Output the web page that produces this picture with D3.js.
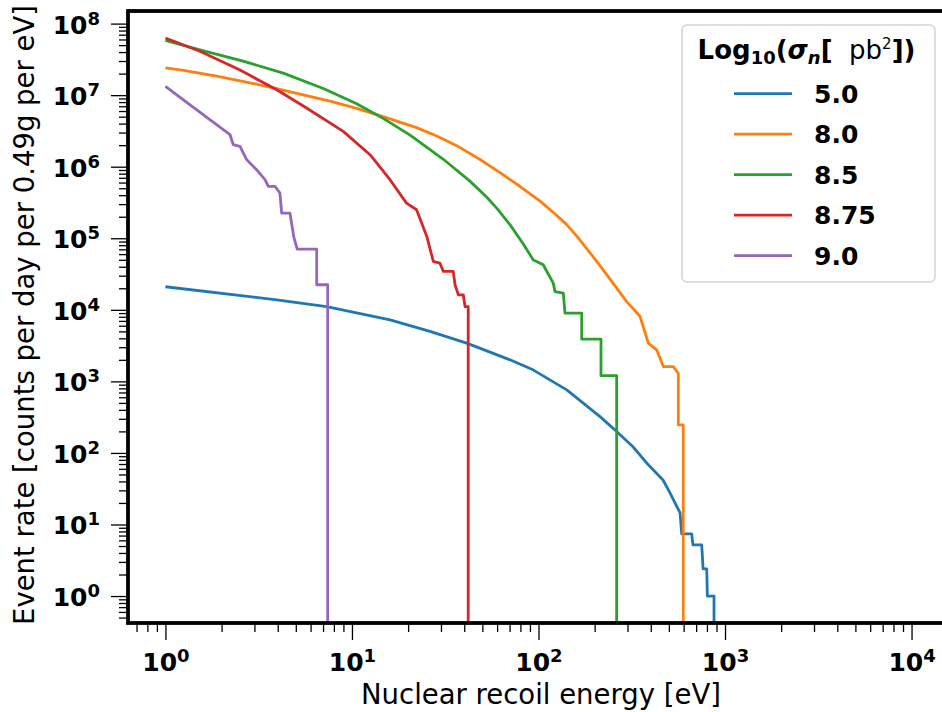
<!DOCTYPE html>
<html>
<head>
<meta charset="utf-8">
<script src="https://cdn.jsdelivr.net/npm/d3@7"></script>
<style>
  html, body { margin: 0; padding: 0; background: #fff; }
  svg { display: block; }
  text { font-family: "DejaVu Sans", sans-serif; }
</style>
</head>
<body>
<svg id="chart" width="942" height="712"></svg>
<script>
// ---------------- DATA ----------------
const seriesLabels = ["5.0", "8.0", "8.5", "8.75", "9.0"];
const seriesColors = ["#1f77b4", "#ff7f0e", "#2ca02c", "#d62728", "#9467bd"];

// Log10(sigma_n) = 5.0
const energy_5_0 = [1, 3.95, 7.32, 16.0, 26.2, 41.2, 70.3, 93.5, 141.7, 213.7, 262.5, 321, 380, 465, 507, 574, 586, 663, 673, 750, 763, 798, 804, 873, 873];
const rate_5_0   = [2.1e4, 1.38e4, 1.11e4, 7.25e3, 5.0e3, 3.42e3, 2.0e3, 1.45e3, 760, 322, 199, 122, 72.4, 41.9, 27.6, 14.5, 7.4, 7.4, 5.2, 5.2, 2.4, 2.4, 1.0, 1.0, 0.001];

// Log10(sigma_n) = 8.0
const energy_8_0 = [1, 1.25, 1.88, 2.84, 3.95, 5.48, 7.62, 10.6, 14.7, 22.2, 28.5, 36.4, 48.6, 62.2, 79.4, 102, 125, 141.7, 160, 181, 213.7, 262.5, 297, 350, 388, 430, 467, 528, 562, 562, 597, 597];
const rate_8_0   = [2.40e7, 2.22e7, 1.85e7, 1.49e7, 1.23e7, 1.01e7, 8.24e6, 6.53e6, 5.02e6, 3.52e6, 2.69e6, 1.97e6, 1.26e6, 8.26e5, 5.33e5, 3.31e5, 2.10e5, 1.55e5, 1.08e5, 7.24e4, 4.15e4, 2.01e4, 1.30e4, 8.13e3, 3.42e3, 2.76e3, 1.61e3, 1.61e3, 1.30e3, 246, 246, 0.001];

// Log10(sigma_n) = 8.5
const energy_8_5 = [1, 1.53, 2.61, 4.28, 7.02, 10.6, 14.7, 20.5, 30.9, 42.9, 52.7, 59.7, 70.3, 82.9, 93.8, 106, 120, 122.5, 135.8, 138.7, 170.5, 170.5, 216.3, 216.3, 262.5, 262.5];
const rate_8_5   = [5.84e7, 4.30e7, 2.99e7, 2.03e7, 1.24e7, 7.58e6, 4.74e6, 2.76e6, 1.27e6, 6.29e5, 3.77e5, 2.64e5, 1.55e5, 8.32e4, 4.97e4, 4.26e4, 2.36e4, 1.8e4, 1.71e4, 9.0e3, 9.0e3, 3.89e3, 3.89e3, 1.2e3, 1.2e3, 0.001];

// Log10(sigma_n) = 8.75
const energy_8_75 = [1, 1.53, 2.51, 3.95, 5.71, 8.98, 12.5, 16.0, 19.6, 22.2, 25.2, 27.3, 29.6, 30.9, 34.9, 35.7, 37.2, 39.5, 40.4, 42.0, 42.0];
const rate_8_75   = [6.3e7, 4.1e7, 2.24e7, 1.19e7, 6.62e6, 3.12e6, 1.47e6, 6.58e5, 3.1e5, 2.5e5, 1.06e5, 4.74e4, 4.5e4, 3.44e4, 3.44e4, 2.24e4, 1.62e4, 1.62e4, 1.11e4, 1.11e4, 0.001];

// Log10(sigma_n) = 9.0
const energy_9_0 = [1, 1.35, 1.73, 2.22, 2.31, 2.51, 2.73, 3.08, 3.42, 3.56, 3.87, 4.11, 4.2, 4.65, 4.89, 5.09, 6.47, 6.47, 7.41, 7.41];
const rate_9_0   = [1.33e7, 7.37e6, 4.54e6, 2.8e6, 2.03e6, 1.92e6, 1.25e6, 9.08e5, 6.58e5, 5.3e5, 5.3e5, 4.29e5, 2.25e5, 2.25e5, 1.01e5, 7.06e4, 7.06e4, 2.24e4, 2.24e4, 0.001];

const xTickExponents = [0, 1, 2, 3, 4];
const yTickExponents = [0, 1, 2, 3, 4, 5, 6, 7, 8];
const xAxisTitle = "Nuclear recoil energy [eV]";
const yAxisTitle = "Event rate [counts per day per 0.49g per eV]";

// ---------------- DRAW ----------------
const seriesEnergy = [energy_5_0, energy_8_0, energy_8_5, energy_8_75, energy_9_0];
const seriesRate = [rate_5_0, rate_8_0, rate_8_5, rate_8_75, rate_9_0];

const svg = d3.select("#chart");
svg.append("rect").attr("width", 942).attr("height", 712).attr("fill", "#fff");

const L = 128, R = 946, T = 11, B = 623;
const x = d3.scaleLog().domain([0.63, 1.53e4]).range([L, R]);
const y = d3.scaleLog().domain([0.42, 1.5e8]).range([B, T]);

function minorTicks(scale) {
  const [a, b] = scale.domain();
  const out = [];
  for (let k = Math.floor(Math.log10(a)) - 1; k <= Math.ceil(Math.log10(b)); k++) {
    for (let m = 2; m <= 9; m++) {
      const v = m * Math.pow(10, k);
      if (v >= a && v <= b) out.push(v);
    }
  }
  return out;
}

svg.append("defs").append("clipPath").attr("id", "plotclip")
  .append("rect").attr("x", L).attr("y", T).attr("width", R - L).attr("height", B - T);

// lines
const line = d3.line().x(d => x(d[0])).y(d => y(d[1]));
const gLines = svg.append("g").attr("clip-path", "url(#plotclip)");
seriesLabels.forEach((lab, i) => {
  const pts = seriesEnergy[i].map((e, j) => [e, seriesRate[i][j]]);
  gLines.append("path")
    .attr("d", line(pts))
    .attr("fill", "none")
    .attr("stroke", seriesColors[i])
    .attr("stroke-width", 2.8)
    .attr("stroke-linejoin", "round");
});

// axes
const majorLen = 17, minorLen = 9;
const xMajor = xTickExponents.map(k => Math.pow(10, k));
const yMajor = yTickExponents.map(k => Math.pow(10, k));

const gxMinor = svg.append("g").attr("transform", `translate(0,${B})`)
  .call(d3.axisBottom(x).tickValues(minorTicks(x)).tickSize(minorLen).tickFormat(""));
const gyMinor = svg.append("g").attr("transform", `translate(${L},0)`)
  .call(d3.axisLeft(y).tickValues(minorTicks(y)).tickSize(minorLen).tickFormat(""));
const gx = svg.append("g").attr("transform", `translate(0,${B})`)
  .call(d3.axisBottom(x).tickValues(xMajor).tickSize(majorLen).tickPadding(10));
const gy = svg.append("g").attr("transform", `translate(${L},0)`)
  .call(d3.axisLeft(y).tickValues(yMajor).tickSize(majorLen).tickPadding(11));

[gxMinor, gyMinor, gx, gy].forEach(g => {
  g.select(".domain").remove();
  g.selectAll(".tick line").attr("stroke", "#000").attr("stroke-width", 1.3);
});

function powLabel(sel) {
  sel.each(function (d) {
    const t = d3.select(this);
    t.text(null);
    t.append("tspan").text("10");
    t.append("tspan").attr("dy", -9).attr("font-size", 18).text(Math.round(Math.log10(d)));
  });
}
gx.selectAll(".tick text")
  .attr("y", 48).attr("dy", 0)
  .attr("font-family", "DejaVu Sans").attr("font-weight", "bold").attr("font-size", 25)
  .attr("fill", "#000").attr("text-anchor", "middle")
  .call(powLabel);
gy.selectAll(".tick text")
  .attr("x", -28).attr("dy", 9.5)
  .attr("font-family", "DejaVu Sans").attr("font-weight", "bold").attr("font-size", 25)
  .attr("fill", "#000").attr("text-anchor", "end")
  .call(powLabel);

// spines
svg.append("rect").attr("x", L).attr("y", T).attr("width", R - L).attr("height", B - T)
  .attr("fill", "none").attr("stroke", "#000").attr("stroke-width", 3.8);

// axis titles
svg.append("text")
  .attr("x", 541).attr("y", 703.5)
  .attr("text-anchor", "middle").attr("font-size", 27.5).attr("fill", "#000")
  .text(xAxisTitle);
svg.append("text")
  .attr("transform", `translate(33.5,315) rotate(-90)`)
  .attr("text-anchor", "middle").attr("font-size", 27.5).attr("fill", "#000")
  .text(yAxisTitle);

// legend
const lg = svg.append("g");
lg.append("rect").attr("x", 682).attr("y", 25).attr("width", 253).attr("height", 257)
  .attr("rx", 5).attr("fill", "#fff").attr("fill-opacity", 0.85)
  .attr("stroke", "#d4d4d4").attr("stroke-width", 1.5);

const title = lg.append("text").attr("x", 806.5).attr("y", 58.5)
  .attr("text-anchor", "middle").attr("font-size", 26).attr("fill", "#000")
  .attr("font-weight", "bold").style("white-space", "pre");
title.append("tspan").text("Log");
title.append("tspan").attr("font-size", 18).attr("dy", 5).text("10");
title.append("tspan").attr("dy", -5).text("(");
title.append("tspan").attr("font-style", "italic").text("σ");
title.append("tspan").attr("font-style", "italic").attr("font-size", 18).attr("dy", 5).text("n");
title.append("tspan").attr("dy", -5).text("[");
title.append("tspan").attr("font-weight", "normal").text("\u00a0\u00a0pb");
title.append("tspan").attr("font-weight", "normal").attr("font-size", 15).attr("dy", -10).text("2");
title.append("tspan").attr("dy", 10).text("])");

seriesLabels.forEach((lab, i) => {
  const yy = 93.7 + i * 40.5;
  lg.append("line").attr("x1", 734).attr("x2", 792).attr("y1", yy).attr("y2", yy)
    .attr("stroke", seriesColors[i]).attr("stroke-width", 2.8);
  lg.append("text").attr("x", 814).attr("y", yy + 9)
    .attr("font-size", 25).attr("font-weight", "bold").attr("fill", "#000")
    .text(lab);
});
</script>
</body>
</html>
